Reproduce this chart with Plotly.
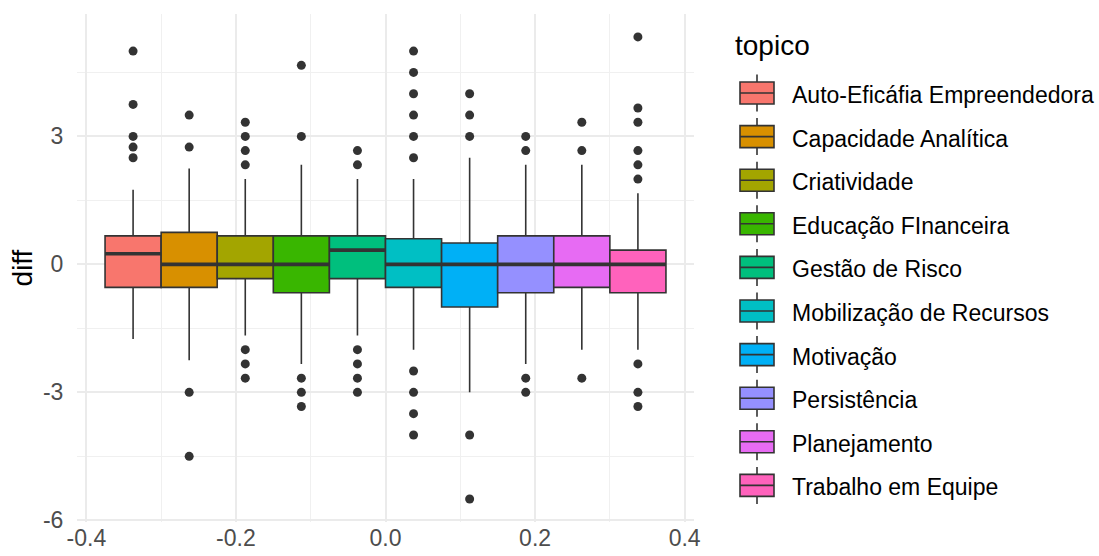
import plotly.graph_objects as go

# ---------------- data ----------------
topics = ["Auto-Eficáfia Empreendedora", "Capacidade Analítica", "Criatividade",
          "Educação FInanceira", "Gestão de Risco", "Mobilização de Recursos",
          "Motivação", "Persistência", "Planejamento", "Trabalho em Equipe"]
colors = ["#F8766D", "#D89000", "#A3A500", "#39B600", "#00BF7D",
          "#00BFC4", "#00B0F6", "#9590FF", "#E76BF3", "#FF62BC"]

q1 = [-0.54, -0.54, -0.333, -0.667, -0.333, -0.54, -1.0, -0.667, -0.54, -0.667]
median = [0.25, 0.0, 0.0, 0.0, 0.333, 0.0, 0.0, 0.0, 0.0, 0.0]
q3 = [0.667, 0.75, 0.667, 0.667, 0.667, 0.6, 0.5, 0.667, 0.667, 0.333]
lower_whisker = [-1.75, -2.25, -1.667, -2.333, -1.667, -2.0, -3.0, -2.333, -2.0, -2.0]
upper_whisker = [1.75, 2.25, 2.0, 2.333, 2.0, 2.0, 2.5, 2.333, 2.333, 1.667]
outliers = [
    [5.0, 3.75, 3.0, 2.75, 2.5],
    [3.5, 2.75, -3.0, -4.5],
    [3.333, 3.0, 2.667, 2.333, -2.0, -2.333, -2.667],
    [4.667, 3.0, -2.667, -3.0, -3.333],
    [2.667, 2.333, -2.0, -2.333, -2.667, -3.0],
    [5.0, 4.5, 4.0, 3.5, 3.0, 2.5, -2.5, -3.0, -3.5, -4.0],
    [4.0, 3.5, 3.0, -4.0, -5.5],
    [3.0, 2.667, -2.667, -3.0],
    [3.333, 2.667, -2.667],
    [5.333, 3.667, 3.333, 2.667, 2.333, 2.0, -2.333, -3.0, -3.333],
]

x_tickvals = [-0.4, -0.2, 0.0, 0.2, 0.4]
x_ticktext = ["-0.4", "-0.2", "0.0", "0.2", "0.4"]
y_tickvals = [-6, -3, 0, 3]
y_ticktext = ["-6", "-3", "0", "3"]

# ---------------- layout constants ----------------
W, H = 1099, 556
ML, MR, MT, MB = 77, 405, 14, 34
PW, PH = W - ML - MR, H - MT - MB
FONT = "Liberation Sans, Arial, sans-serif"
EDGE = "#333333"

dodge_total = 0.75
n = len(topics)
bw = dodge_total / n
centers = [-dodge_total / 2 + bw * (i + 0.5) for i in range(n)]

fig = go.Figure()

for i in range(n):
    c = centers[i]
    fig.add_trace(go.Box(
        x=[c], q1=[q1[i]], median=[median[i]], q3=[q3[i]],
        lowerfence=[lower_whisker[i]], upperfence=[upper_whisker[i]],
        width=bw, fillcolor=colors[i], line=dict(color=EDGE, width=1.6),
        whiskerwidth=0, boxpoints=False, showlegend=False, hoverinfo="skip",
        name=topics[i],
    ))
    # thick median line (ggplot fatten)
    fig.add_trace(go.Scatter(
        x=[c - bw / 2, c + bw / 2], y=[median[i], median[i]], mode="lines",
        line=dict(color=EDGE, width=3.6), showlegend=False, hoverinfo="skip",
    ))
    fig.add_trace(go.Scatter(
        x=[c] * len(outliers[i]), y=outliers[i], mode="markers",
        marker=dict(color=EDGE, size=9), showlegend=False, hoverinfo="skip",
    ))

# ---------------- manual ggplot-style legend ----------------
def px_x(px):
    return (px - ML) / PW

def px_y(py):
    return (H - MB - py) / PH

shapes = []
annotations = []
key_l, key_r, key_mid = 740, 774, 757
item0, step = 93, 43.6
for i in range(n):
    cy = item0 + step * i
    shapes.append(dict(type="line", xref="paper", yref="paper",
                       x0=px_x(key_mid), x1=px_x(key_mid), y0=px_y(cy - 18.5), y1=px_y(cy + 18.5),
                       line=dict(color=EDGE, width=1.6), layer="above"))
    shapes.append(dict(type="rect", xref="paper", yref="paper",
                       x0=px_x(key_l), x1=px_x(key_r), y0=px_y(cy - 11), y1=px_y(cy + 11),
                       fillcolor=colors[i], line=dict(color=EDGE, width=1.6), layer="above"))
    shapes.append(dict(type="line", xref="paper", yref="paper",
                       x0=px_x(key_l), x1=px_x(key_r), y0=px_y(cy), y1=px_y(cy),
                       line=dict(color=EDGE, width=1.6), layer="above"))
    annotations.append(dict(xref="paper", yref="paper", x=px_x(790), y=px_y(cy + 2),
                            xanchor="left", yanchor="middle", showarrow=False,
                            text=topics[i], font=dict(family=FONT, size=23, color="black")))

annotations.append(dict(xref="paper", yref="paper", x=px_x(733), y=px_y(45),
                        xanchor="left", yanchor="middle", showarrow=False,
                        text="topico", font=dict(family=FONT, size=28, color="black")))

fig.update_layout(
    width=W, height=H,
    margin=dict(l=ML, r=MR, t=MT, b=MB, pad=0, autoexpand=False),
    plot_bgcolor="white", paper_bgcolor="white",
    showlegend=False,
    boxmode="overlay",
    font=dict(family=FONT),
    shapes=shapes, annotations=annotations,
    xaxis=dict(
        range=[-0.4125, 0.4125], tickvals=x_tickvals, ticktext=x_ticktext,
        showgrid=True, gridcolor="#EBEBEB", gridwidth=1.5, zeroline=False,
        showline=False, ticks="", ticklen=0,
        tickfont=dict(family=FONT, size=23, color="#4D4D4D"), automargin=False,
        minor=dict(dtick=0.1, tick0=0, showgrid=True, gridcolor="#F0F0F0", gridwidth=1),
    ),
    yaxis=dict(
        range=[-6.04, 5.87], tickvals=y_tickvals, ticktext=y_ticktext,
        showgrid=True, gridcolor="#EBEBEB", gridwidth=1.5, zeroline=False,
        showline=False, ticks="outside", ticklen=8, tickcolor="rgba(0,0,0,0)",
        tickfont=dict(family=FONT, size=23, color="#4D4D4D"), automargin=False,
        minor=dict(dtick=1.5, tick0=0, showgrid=True, gridcolor="#F0F0F0", gridwidth=1),
        title=dict(text="diff", font=dict(family=FONT, size=28, color="black"), standoff=2),
    ),
)

fig.write_html(
    "out.html",
    config={"displayModeBar": False},
    post_script="document.body.style.margin='0';document.body.style.overflow='hidden';",
)
